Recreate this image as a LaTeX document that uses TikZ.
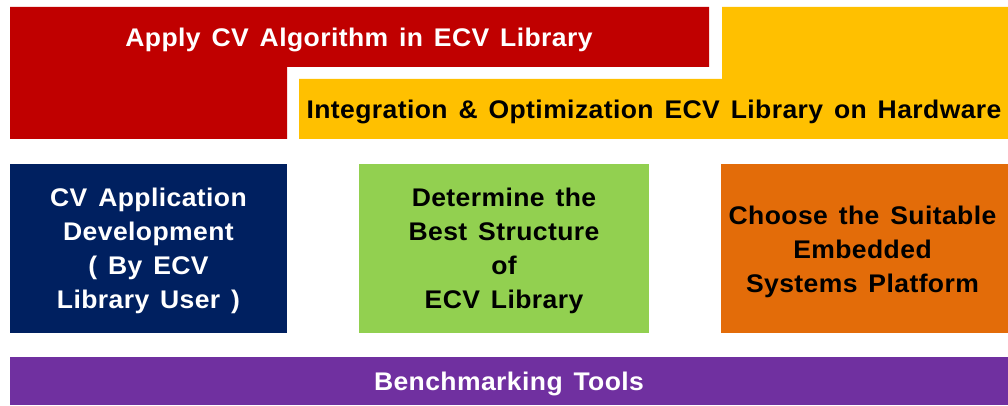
\documentclass[tikz,border=0pt]{standalone}
\usepackage{fontspec}
\setmainfont{Liberation Sans}[FakeStretch=1.04, WordSpace=1.4, LetterSpace=1.6]
\begin{document}
\begin{tikzpicture}[x=1pt,y=-1pt,
  lbl/.style={font=\fontsize{25.5}{34}\selectfont\bfseries, align=center, inner sep=0pt},
  box/.style={inner sep=0pt, draw=none, align=center, font=\fontsize{25.5}{34}\selectfont\bfseries}]
\definecolor{cred}{HTML}{C00000}
\definecolor{cyellow}{HTML}{FFC000}
\definecolor{cblue}{HTML}{002060}
\definecolor{cgreen}{HTML}{92D050}
\definecolor{corange}{HTML}{E36C09}
\definecolor{cpurple}{HTML}{7030A0}
\useasboundingbox (0,0) rectangle (1008,406);
\fill[white] (0,0) rectangle (1008,406);
% L-shaped top layers
\fill[cred] (10,7) -- (709,7) -- (709,67) -- (287,67) -- (287,139) -- (10,139) -- cycle;
\fill[cyellow] (722,7) -- (1008,7) -- (1008,139) -- (299,139) -- (299,79) -- (722,79) -- cycle;
\node[lbl, text=white] (apply) at (359,40) {Apply CV Algorithm in ECV Library};
\node[lbl, text=black] (integ) at (654,112) {Integration \& Optimization ECV Library on Hardware};
% middle row
\node[box, fill=cblue, text=white, minimum width=277pt, minimum height=169pt] (dev) at (148.5,248.5) {};
\node[box, text=white] (devtxt) at (148.5,250.5)
  {CV Application\\Development\\( By ECV\\Library User )};
\node[box, fill=cgreen, text=black, minimum width=290pt, minimum height=169pt] (struct) at (504,248.5) {};
\node[box, text=black] (structtxt) at (504,250.5)
  {Determine the\\Best Structure\\of\\ECV Library};
\node[box, fill=corange, text=black, minimum width=287pt, minimum height=169pt] (plat) at (864.5,248.5) {};
\node[box, text=black] (plattxt) at (862.5,251.5)
  {Choose the Suitable\\Embedded\\Systems Platform};
% bottom bar
\node[box, fill=cpurple, text=white, minimum width=998pt, minimum height=48pt] (bench) at (509,381) {};
\node[box, text=white] (benchtxt) at (509,384) {Benchmarking Tools};
\end{tikzpicture}
\end{document}
